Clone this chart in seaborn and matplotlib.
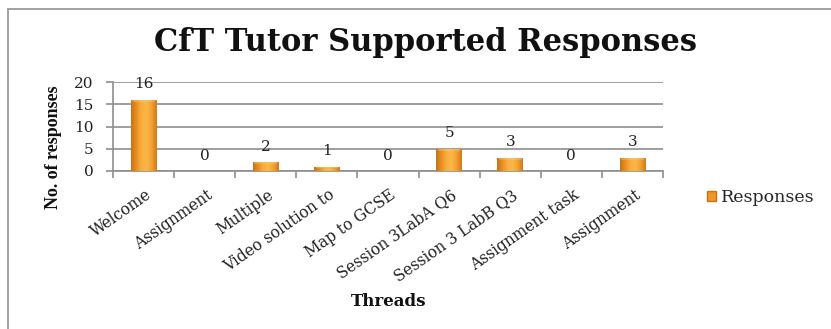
import numpy as np
import pandas as pd
import matplotlib
matplotlib.use("Agg")
import matplotlib.pyplot as plt
import matplotlib.transforms as mtransforms
from matplotlib.patches import Patch, Rectangle
from matplotlib.colors import LinearSegmentedColormap
import seaborn as sns

# Thread names and the number of tutor-supported responses in each
threads = ["Welcome", "Assignment", "Multiple", "Video solution to", "Map to GCSE",
           "Session 3LabA Q6", "Session 3 LabB Q3", "Assignment task", "Assignment"]
responses = [16, 0, 2, 1, 0, 5, 3, 0, 3]
y_ticks = [0, 5, 10, 15, 20]

df = pd.DataFrame({"pos": np.arange(len(threads)), "responses": responses})

sns.set_theme(style="white")
plt.rcParams["font.family"] = ["DejaVu Serif"]

W, H = 831, 329
fig = plt.figure(figsize=(W / 100, H / 100), dpi=100)
ax = fig.add_axes([113 / W, 1 - 171 / H, 550 / W, 89 / H])

ORANGE = "#EE9626"
sns.barplot(data=df, x="pos", y="responses", color=ORANGE, width=0.42,
            saturation=1, ax=ax, zorder=3, edgecolor="none")

# Shaded fill across each bar: darker edges, bright centre
cmap = LinearSegmentedColormap.from_list(
    "bar", ["#C9711A", "#E8901F", "#F9AE3E", "#FBB848", "#F2A032", "#D27A1B"])
grad = np.linspace(0, 1, 64)[None, :]
for p in ax.patches:
    h = p.get_height()
    if h <= 0:
        continue
    x0 = p.get_x()
    w = p.get_width()
    im = ax.imshow(grad, cmap=cmap, extent=[x0, x0 + w, 0, h], aspect="auto",
                   zorder=3.5, interpolation="bicubic")
    im.set_clip_path(p)
    # lighter bevel along the top edge
    top = min(0.45, h * 0.25)
    ax.add_patch(Rectangle((x0 + w * 0.06, h - top), w * 0.88, top,
                           facecolor="#FFD27A", alpha=0.35, edgecolor="none", zorder=3.6))

ax.bar_label(ax.containers[0], labels=[str(v) for v in responses], padding=6,
             fontsize=11, color="#222222", zorder=5)

ax.set_xlim(-0.5, len(threads) - 0.5)
ax.set_ylim(0, 20)
ax.set_yticks(y_ticks)
ax.set_yticklabels([str(t) for t in y_ticks], fontsize=11, color="#222222")

ax.yaxis.grid(True, color="#8E8E8E", linewidth=1.2, zorder=0)
ax.set_axisbelow(True)
for side in ["top", "right"]:
    ax.spines[side].set_visible(False)
for side in ["left", "bottom"]:
    ax.spines[side].set_color("#8E8E8E")
    ax.spines[side].set_linewidth(1.2)

ax.tick_params(axis="y", which="major", left=True, length=5, width=1.2,
               color="#8E8E8E", pad=9)
ax.set_xticks(np.arange(len(threads)))
ax.set_xticks(np.arange(-0.5, len(threads), 1.0), minor=True)
ax.tick_params(axis="x", which="minor", bottom=True, length=5, width=1.2,
               color="#8E8E8E")
ax.tick_params(axis="x", which="major", bottom=False, length=0, pad=0)
ax.set_xticklabels(threads, rotation=35, ha="right", va="top",
                   rotation_mode="anchor", fontsize=11.2, color="#222222")
offset = mtransforms.ScaledTranslation(1 / 72, -11 / 72, fig.dpi_scale_trans)
for lab in ax.get_xticklabels():
    lab.set_transform(lab.get_transform() + offset)

ax.set_xlabel("")
ax.set_ylabel("")

fig.text(426 / W, 1 - 43 / H, "CfT Tutor Supported Responses", ha="center",
         va="center", fontsize=22, fontweight="bold", color="#111111")
fig.text(389 / W, 1 - 301 / H, "Threads", ha="center", va="center",
         fontsize=12, fontweight="bold", color="#111111")
fig.text(54 / W, 1 - 147 / H, "No. of responses", ha="center", va="center",
         rotation=90, fontsize=13, fontweight="bold", color="#111111",
         family=["Liberation Serif"])

fig.legend(handles=[Patch(facecolor=ORANGE, edgecolor="#C9711A")],
           labels=["Responses"], loc="center left",
           bbox_to_anchor=(707 / W, 1 - 198 / H), frameon=False,
           handlelength=0.5, handleheight=0.5, handletextpad=0.3,
           borderpad=0, borderaxespad=0, fontsize=12.5)

# Outer chart frame
fig.add_artist(Rectangle((8 / W, -0.5), 2, 0.5 + 1 - 9 / H, transform=fig.transFigure,
                         fill=False, edgecolor="#9A9A9A", linewidth=1.3))

fig.savefig("out.png", dpi=100)
